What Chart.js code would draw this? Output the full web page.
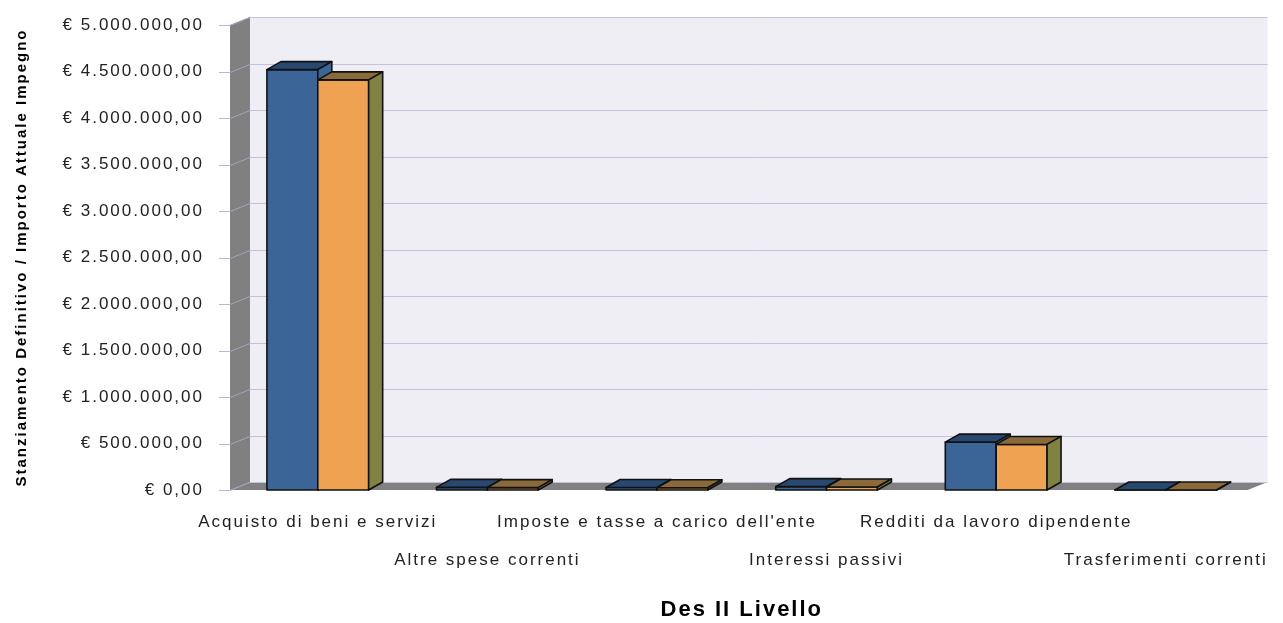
<!DOCTYPE html>
<html>
<head>
<meta charset="utf-8">
<script src="https://cdn.jsdelivr.net/npm/chart.js@4"></script>
<style>
  html, body { margin: 0; background: #fff; }
  canvas { display: block; }
</style>
</head>
<body>
<canvas id="chart" width="1283" height="623"></canvas>
<script>
const categories = [
  'Acquisto di beni e servizi',
  'Altre spese correnti',
  "Imposte e tasse a carico dell'ente",
  'Interessi passivi',
  'Redditi da lavoro dipendente',
  'Trasferimenti correnti'
];
const stanziamentoDefinitivo = [4520000, 28000, 27000, 36000, 515000, 0];
const importoAttualeImpegno = [4410000, 26000, 24000, 32000, 490000, 0];
const yTickValues = [0, 500000, 1000000, 1500000, 2000000, 2500000, 3000000, 3500000, 4000000, 4500000, 5000000];

// colori delle facce: fronte, sopra, lato
const seriesColors = [
  { front: '#3B6597', top: '#284870', side: '#3B6597' },
  { front: '#EFA352', top: '#8A6A3A', side: '#7F8240' }
];

const WALL_DX = 20, WALL_DY = 8;
const BAR_DX = 14, BAR_DY = 8;
const SHIFT = 3; // le pareti partono 3px prima dell'asse categorie

function euro(v) {
  const s = String(Math.round(v)).replace(/\B(?=(\d{3})+(?!\d))/g, '.');
  return '€ ' + s + ',00';
}

function poly(ctx, pts, fill, stroke, lw) {
  ctx.beginPath();
  ctx.moveTo(pts[0][0], pts[0][1]);
  for (let i = 1; i < pts.length; i++) ctx.lineTo(pts[i][0], pts[i][1]);
  ctx.closePath();
  if (fill) { ctx.fillStyle = fill; ctx.fill(); }
  if (stroke) { ctx.strokeStyle = stroke; ctx.lineWidth = lw || 1; ctx.stroke(); }
}

const depth3d = {
  id: 'depth3d',
  beforeLayout(chart) { chart.ctx.letterSpacing = '2px'; },
  beforeDraw(chart) { chart.ctx.letterSpacing = '2px'; },
  beforeDatasetsDraw(chart) {
    const { ctx, chartArea: a, scales: { y } } = chart;
    const L = a.left - SHIFT, R = a.right - SHIFT, T = a.top, B = a.bottom;
    ctx.save();
    // parete di fondo
    ctx.fillStyle = '#EEEEF4';
    ctx.fillRect(L + WALL_DX, T - WALL_DY, R - L, B - T);
    // parete sinistra e pavimento
    poly(ctx, [[L, T], [L + WALL_DX, T - WALL_DY], [L + WALL_DX, B - WALL_DY], [L, B]], '#808080');
    poly(ctx, [[L, B], [L + WALL_DX, B - WALL_DY], [R + WALL_DX, B - WALL_DY], [R, B]], '#808080');
    // griglia
    ctx.lineWidth = 1;
    yTickValues.forEach(v => {
      const py = Math.round(y.getPixelForValue(v)) + 0.5;
      ctx.strokeStyle = '#B8B8D2';
      ctx.beginPath();
      ctx.moveTo(L - 11, py);
      ctx.lineTo(L, py);
      ctx.stroke();
      ctx.strokeStyle = '#A4A4BE';
      ctx.beginPath();
      ctx.moveTo(L, py);
      ctx.lineTo(L + WALL_DX, py - WALL_DY);
      ctx.stroke();
      ctx.strokeStyle = '#C2C2DA';
      ctx.beginPath();
      ctx.moveTo(L + WALL_DX, py - WALL_DY);
      ctx.lineTo(R + WALL_DX, py - WALL_DY);
      ctx.stroke();
    });
    ctx.restore();
  },
  afterDatasetsDraw(chart) {
    const ctx = chart.ctx;
    const metas = chart.data.datasets.map((_, i) => chart.getDatasetMeta(i));
    ctx.save();
    ctx.lineJoin = 'round';
    categories.forEach((_, i) => {
      metas.forEach((meta, d) => {
        const el = meta.data[i];
        const { x, y, base, width } = el.getProps(['x', 'y', 'base', 'width'], true);
        const l = x - width / 2, r = x + width / 2;
        const top = Math.min(y, base);
        const c = seriesColors[d];
        poly(ctx, [[l, top], [r, top], [r, base], [l, base]], c.front, '#111', 1.6);
        poly(ctx, [[l, top], [l + BAR_DX, top - BAR_DY], [r + BAR_DX, top - BAR_DY], [r, top]], c.top, '#111', 1.6);
        poly(ctx, [[r, top], [r + BAR_DX, top - BAR_DY], [r + BAR_DX, base - BAR_DY], [r, base]], c.side, '#111', 1.6);
      });
    });
    ctx.restore();
  }
};

new Chart(document.getElementById('chart'), {
  type: 'bar',
  data: {
    labels: categories.map((c, i) => (i % 2 ? ['', c] : c)),
    datasets: [
      { label: 'Stanziamento Definitivo', data: stanziamentoDefinitivo, backgroundColor: 'rgba(0,0,0,0)', borderWidth: 0, categoryPercentage: 0.6, barPercentage: 1.0 },
      { label: 'Importo Attuale Impegno', data: importoAttualeImpegno, backgroundColor: 'rgba(0,0,0,0)', borderWidth: 0, categoryPercentage: 0.6, barPercentage: 1.0 }
    ]
  },
  options: {
    responsive: false,
    animation: false,
    devicePixelRatio: 1,
    layout: { padding: { top: 25, right: 27, bottom: 0, left: 0 } },
    plugins: { legend: { display: false }, tooltip: { enabled: false } },
    scales: {
      x: {
        grid: { display: false, drawTicks: false },
        border: { display: false },
        ticks: {
          autoSkip: false, maxRotation: 0, minRotation: 0, padding: 13, color: '#222',
          font: { family: "'Liberation Sans', Arial, sans-serif", size: 17, lineHeight: 2.265 }
        },
        title: {
          display: true, text: 'Des II Livello', color: '#000', padding: 0,
          font: { family: "'Liberation Sans', Arial, sans-serif", size: 22, weight: 'bold' }
        },
        afterFit: (s) => { s.height = 133; s.paddingTop = 0; s.paddingBottom = 0; }
      },
      y: {
        min: 0, max: 5000000,
        afterBuildTicks: (s) => { s.ticks = yTickValues.map(v => ({ value: v })); },
        grid: { display: false, drawTicks: false },
        border: { display: false },
        ticks: {
          padding: 29, color: '#222',
          font: { family: "'Liberation Sans', Arial, sans-serif", size: 17 },
          callback: (v) => euro(v)
        },
        title: {
          display: true, text: 'Stanziamento Definitivo / Importo Attuale Impegno', color: '#000',
          padding: { top: 13, bottom: 0 },
          font: { family: "'Liberation Sans', Arial, sans-serif", size: 15, weight: 'bold' }
        },
        afterFit: (s) => { s.width = 233; s.paddingTop = 0; s.paddingBottom = 0; }
      }
    }
  },
  plugins: [depth3d]
});
</script>
</body>
</html>
